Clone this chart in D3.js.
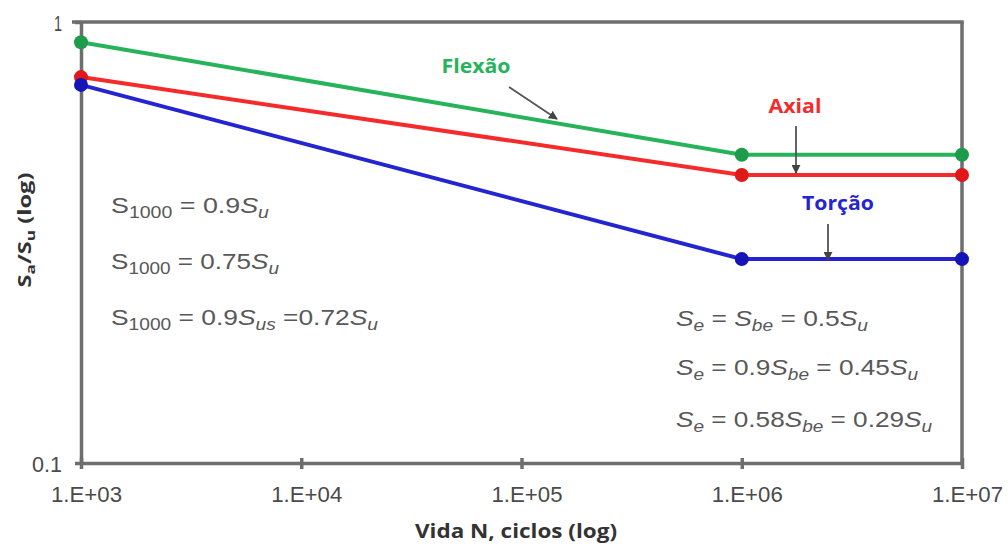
<!DOCTYPE html>
<html><head><meta charset="utf-8">
<script src="https://cdn.jsdelivr.net/npm/d3@7"></script>
<style>body{margin:0;background:#fff}svg{display:block}</style>
</head><body>
<svg id="c" width="1008" height="545"></svg>
<script>
const cycles = [1e3, 1e6, 1e7];
const flexao = [0.9, 0.5, 0.5];
const axial = [0.75, 0.45, 0.45];
const torcao = [0.72, 0.29, 0.29];
const seriesNames = ["Flexão", "Axial", "Torção"];
const xTicks = [1e3, 1e4, 1e5, 1e6, 1e7];
const xTickLabels = ["1.E+03", "1.E+04", "1.E+05", "1.E+06", "1.E+07"];
const yTicks = [0.1, 1];
const yTickLabels = ["0.1", "1"];

const svg = d3.select("#c");
const L = 81, R = 962, T = 22, B = 463;
const x = d3.scaleLog().domain([1e3, 1e7]).range([L, R]);
const y = d3.scaleLog().domain([0.1, 1]).range([B, T]);
const axisCol = "#6e6e6e";
const font = "'Liberation Sans', Arial, sans-serif";
const boldFont = "'Open Sans', 'DejaVu Sans', sans-serif";
const AW = 3.5;

// frame
svg.append("line").attr("x1", 72).attr("x2", R + AW / 2).attr("y1", T).attr("y2", T).attr("stroke", axisCol).attr("stroke-width", AW);
svg.append("line").attr("x1", R).attr("x2", R).attr("y1", T).attr("y2", B).attr("stroke", axisCol).attr("stroke-width", AW);

const xAxis = svg.append("g").attr("transform", `translate(0,${B})`)
  .call(d3.axisBottom(x).tickValues(xTicks).tickFormat((d, i) => xTickLabels[i]).tickSize(6).tickSizeOuter(0));
xAxis.select(".domain").attr("stroke", axisCol).attr("stroke-width", AW);
xAxis.selectAll(".tick line").attr("stroke", axisCol).attr("stroke-width", AW).attr("y1", -5);
xAxis.selectAll("text").attr("font-family", font).attr("font-size", 22).attr("fill", "#4a4a4a")
  .attr("x", 5).attr("y", 0).attr("dy", 39).attr("textLength", 71).attr("lengthAdjust", "spacingAndGlyphs");

const yAxis = svg.append("g").attr("transform", `translate(${L},0)`)
  .call(d3.axisLeft(y).tickValues(yTicks).tickFormat((d, i) => yTickLabels[i]).tickSize(6).tickSizeOuter(0));
yAxis.select(".domain").attr("stroke", axisCol).attr("stroke-width", AW);
yAxis.selectAll(".tick line").attr("stroke", axisCol).attr("stroke-width", AW);
yAxis.selectAll("text").attr("font-family", font).attr("font-size", 22).attr("fill", "#4a4a4a").attr("x", -19).attr("dy", "0.4em")
  .attr("textLength", (d, i) => yTickLabels[i].length === 1 ? 8 : 30).attr("lengthAdjust", "spacingAndGlyphs");

const cols = ["#27b35a", "#f52a2a", "#2424d0"];
const dotCols = ["#1e9c4c", "#e01818", "#1414b8"];
const data = [flexao, axial, torcao];
const line = d3.line().x((d, i) => x(cycles[i])).y(d => y(d));
data.forEach((s, k) => {
  svg.append("path").attr("d", line(s)).attr("fill", "none").attr("stroke", cols[k]).attr("stroke-width", 4);
});
data.forEach((s, k) => {
  svg.selectAll(null).data(s).enter().append("circle")
    .attr("cx", (d, i) => x(cycles[i])).attr("cy", d => y(d)).attr("r", 7).attr("fill", dotCols[k]);
});

// series labels + arrows
svg.append("defs").append("marker").attr("id", "ah").attr("viewBox", "0 0 10 10").attr("refX", 9).attr("refY", 5)
  .attr("markerWidth", 5).attr("markerHeight", 5).attr("orient", "auto")
  .append("path").attr("d", "M0,0L10,5L0,10z").attr("fill", "#444");
const labels = [
  {t: seriesNames[0], c: cols[0], x: 476, y: 73, w: 69, a: [509, 87, 557, 119]},
  {t: seriesNames[1], c: cols[1], x: 795, y: 113, w: 53, a: [796, 126, 796, 173]},
  {t: seriesNames[2], c: cols[2], x: 838, y: 210, w: 72, a: [828, 224, 828, 260]}
];
labels.forEach(l => {
  svg.append("text").attr("x", l.x).attr("y", l.y).attr("text-anchor", "middle").attr("font-family", boldFont)
    .attr("font-weight", "bold").attr("font-size", 20).attr("fill", l.c)
    .attr("textLength", l.w).attr("lengthAdjust", "spacingAndGlyphs").text(l.t);
  svg.append("line").attr("x1", l.a[0]).attr("y1", l.a[1]).attr("x2", l.a[2]).attr("y2", l.a[3])
    .attr("stroke", "#555").attr("stroke-width", 1.8).attr("marker-end", "url(#ah)");
});

// equations
function eq(xp, yp, w, parts) {
  const t = svg.append("text").attr("x", xp).attr("y", yp).attr("font-family", font).attr("font-size", 22).attr("fill", "#585858")
    .attr("textLength", w).attr("lengthAdjust", "spacingAndGlyphs");
  parts.forEach(p => {
    const ts = t.append("tspan").text(p.s);
    if (p.i) ts.attr("font-style", "italic");
    if (p.sub) ts.attr("font-size", 16).attr("dy", 5);
    if (p.up) ts.attr("dy", -5);
  });
}
eq(111, 213, 158, [{s: "S"}, {s: "1000", sub: 1}, {s: " = 0.9", up: 1}, {s: "S", i: 1}, {s: "u", i: 1, sub: 1}]);
eq(111, 269, 168, [{s: "S"}, {s: "1000", sub: 1}, {s: " = 0.75", up: 1}, {s: "S", i: 1}, {s: "u", i: 1, sub: 1}]);
eq(111, 325, 267, [{s: "S"}, {s: "1000", sub: 1}, {s: " = 0.9", up: 1}, {s: "S", i: 1}, {s: "us", i: 1, sub: 1}, {s: " =0.72", up: 1}, {s: "S", i: 1}, {s: "u", i: 1, sub: 1}]);
eq(676, 326, 192, [{s: "S", i: 1}, {s: "e", i: 1, sub: 1}, {s: " = ", up: 1}, {s: "S", i: 1}, {s: "be", i: 1, sub: 1}, {s: " = 0.5", up: 1}, {s: "S", i: 1}, {s: "u", i: 1, sub: 1}]);
eq(676, 375, 242, [{s: "S", i: 1}, {s: "e", i: 1, sub: 1}, {s: " = 0.9", up: 1}, {s: "S", i: 1}, {s: "be", i: 1, sub: 1}, {s: " = 0.45", up: 1}, {s: "S", i: 1}, {s: "u", i: 1, sub: 1}]);
eq(676, 427, 256, [{s: "S", i: 1}, {s: "e", i: 1, sub: 1}, {s: " = 0.58", up: 1}, {s: "S", i: 1}, {s: "be", i: 1, sub: 1}, {s: " = 0.29", up: 1}, {s: "S", i: 1}, {s: "u", i: 1, sub: 1}]);

// axis titles
svg.append("text").attr("x", 516).attr("y", 538).attr("text-anchor", "middle").attr("font-family", boldFont)
  .attr("font-weight", "bold").attr("font-size", 20).attr("fill", "#333")
  .attr("textLength", 202).attr("lengthAdjust", "spacingAndGlyphs").text("Vida N, ciclos (log)");
const yt = svg.append("text").attr("transform", "translate(31,230) rotate(-90)").attr("text-anchor", "middle")
  .attr("font-family", boldFont).attr("font-weight", "bold").attr("font-size", 18).attr("fill", "#333")
  .attr("textLength", 115).attr("lengthAdjust", "spacingAndGlyphs");
yt.append("tspan").text("S");
yt.append("tspan").text("a").attr("font-size", 13).attr("dy", 4);
yt.append("tspan").text("/S").attr("dy", -4);
yt.append("tspan").text("u").attr("font-size", 13).attr("dy", 4);
yt.append("tspan").text(" (log)").attr("dy", -4);
</script>
</body></html>
